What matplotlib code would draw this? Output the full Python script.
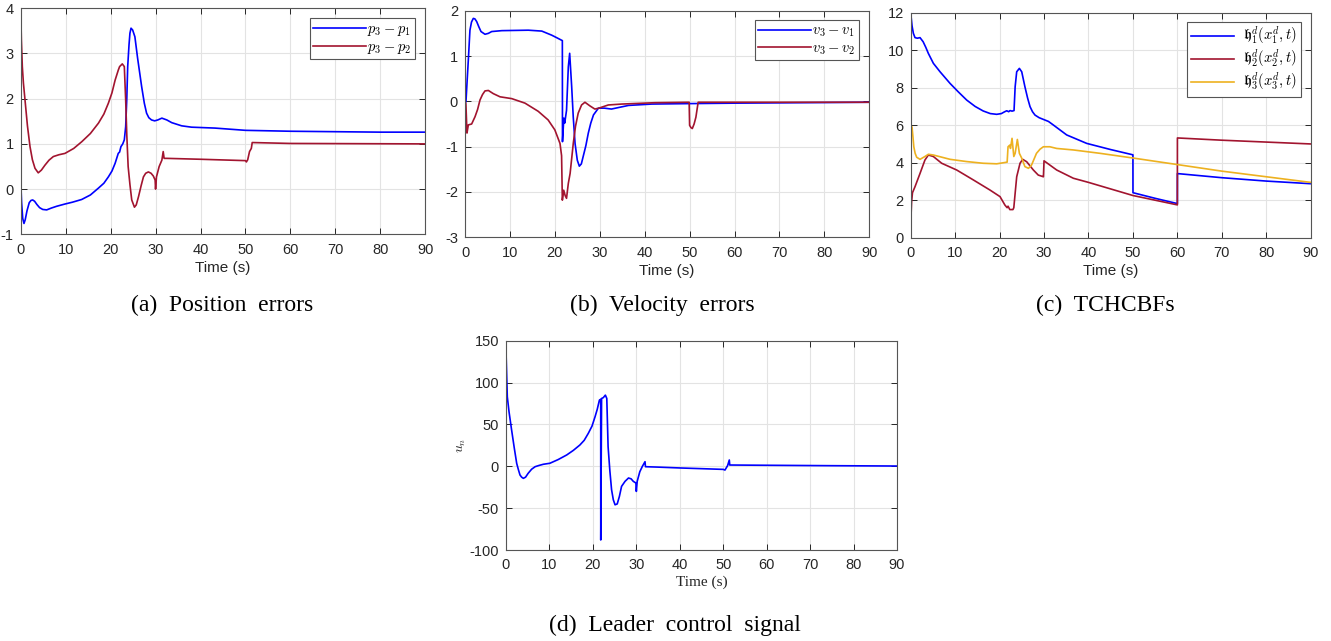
import matplotlib
matplotlib.use("Agg")
import matplotlib.pyplot as plt

plt.rcParams['axes.unicode_minus'] = False
plt.rcParams['mathtext.fontset'] = 'cm'
plt.rcParams['font.family'] = ['Liberation Sans', 'DejaVu Sans']

BLUE = '#0000FF'
RED = '#A2142F'
YEL = '#EDB120'

# ---------------- (a) Position errors ----------------
t_a1 = [0, 0.2, 0.45, 0.73, 1.0, 1.4, 1.9, 2.3, 2.67, 3.1, 3.6, 4.2, 4.9, 5.78, 6.8, 8.0, 9.85, 11.5, 13.56, 15.5, 17.27, 18.5, 19.5, 20.3, 21.0, 21.7, 22.0, 22.3, 22.7, 23.05, 23.35, 23.6, 23.8, 24.1, 24.3, 24.54, 24.9, 25.4, 26.0, 26.9, 27.5, 28.0, 28.5, 29.1, 29.8, 30.5, 31.4, 32.5, 33.6, 35.8, 38, 43.2, 50, 60, 70, 80, 90]
v_a1 = [0.2, -0.3, -0.65, -0.76, -0.68, -0.48, -0.3, -0.25, -0.24, -0.27, -0.34, -0.41, -0.45, -0.46, -0.42, -0.38, -0.33, -0.29, -0.23, -0.13, 0.02, 0.13, 0.27, 0.4, 0.57, 0.79, 0.82, 0.94, 1.0, 1.09, 1.38, 2.0, 2.71, 3.2, 3.45, 3.56, 3.52, 3.37, 2.9, 2.27, 1.9, 1.68, 1.58, 1.53, 1.51, 1.53, 1.57, 1.53, 1.47, 1.40, 1.37, 1.35, 1.3, 1.28, 1.27, 1.26, 1.26]
t_a2 = [0, 0.15, 0.36, 0.6, 0.96, 1.5, 2.07, 2.6, 3.18, 3.9, 4.6, 5.4, 6.3, 7.26, 8.5, 9.85, 11.8, 13.6, 15.5, 17.3, 18.5, 19.5, 20.3, 21.0, 21.7, 22.0, 22.6, 23.05, 23.35, 23.6, 23.9, 24.3, 24.7, 25.3, 25.7, 26.2, 26.8, 27.3, 27.8, 28.4, 29.0, 29.5, 29.9, 30.0, 30.2, 30.8, 31.4, 31.7, 31.9, 32.5, 40, 50.0, 50.2, 50.5, 50.9, 51.3, 51.5, 60, 90]
v_a2 = [4.0, 3.3, 2.71, 2.35, 1.97, 1.4, 0.94, 0.65, 0.46, 0.36, 0.42, 0.53, 0.64, 0.72, 0.76, 0.79, 0.9, 1.05, 1.23, 1.46, 1.66, 1.90, 2.13, 2.41, 2.63, 2.71, 2.77, 2.71, 1.97, 1.2, 0.5, 0.1, -0.24, -0.4, -0.35, -0.17, 0.08, 0.27, 0.35, 0.38, 0.35, 0.29, 0.2, 0.0, 0.27, 0.5, 0.64, 0.83, 0.68, 0.68, 0.66, 0.63, 0.6, 0.65, 0.83, 0.9, 1.03, 1.01, 1.0]

# ---------------- (b) Velocity errors ----------------
t_b1 = [0, 0.22, 0.5, 0.74, 1.1, 1.45, 1.85, 2.2, 2.6, 3.1, 3.56, 4.45, 5.2, 5.94, 8.2, 14.1, 17.1, 19.3, 20.5, 21.67, 21.7, 22.0, 22.2, 22.6, 23.0, 23.3, 23.75, 24.1, 24.5, 25.0, 25.45, 25.9, 26.3, 26.9, 27.45, 28.0, 28.6, 29.7, 31.0, 32.6, 36.4, 41.6, 50, 60, 90]
v_b1 = [-0.05, 0.0, 0.5, 0.91, 1.57, 1.75, 1.83, 1.82, 1.76, 1.64, 1.54, 1.48, 1.5, 1.54, 1.56, 1.57, 1.55, 1.46, 1.40, 1.34, -0.89, -0.37, -0.48, -0.2, 0.76, 1.06, 0.32, -0.35, -0.93, -1.3, -1.43, -1.38, -1.22, -0.98, -0.7, -0.48, -0.3, -0.15, -0.15, -0.17, -0.09, -0.06, -0.05, -0.04, -0.02]
t_b2 = [0, 0.2, 0.44, 0.74, 1.48, 2.23, 2.8, 3.34, 3.9, 4.45, 5.2, 6.3, 7.8, 10.4, 13.36, 16.3, 18.5, 20.0, 21.15, 21.5, 21.67, 21.97, 22.3, 22.6, 23.0, 23.4, 24.1, 24.6, 25.2, 25.95, 26.7, 27.8, 28.9, 29.8, 31.9, 34.9, 42.3, 49.9, 50.0, 50.3, 50.6, 51.0, 51.4, 51.9, 60, 90]
v_b2 = [0.0, -0.05, -0.7, -0.52, -0.5, -0.34, -0.18, 0.03, 0.15, 0.23, 0.24, 0.17, 0.1, 0.06, -0.04, -0.22, -0.41, -0.63, -0.93, -1.2, -2.18, -1.96, -2.08, -2.14, -1.81, -1.59, -0.93, -0.55, -0.26, -0.08, -0.02, -0.1, -0.17, -0.15, -0.08, -0.06, -0.03, -0.02, -0.53, -0.58, -0.6, -0.5, -0.35, -0.02, -0.02, -0.02]

# ---------------- (c) TCHCBFs ----------------
t_c1 = [0, 0.3, 0.6, 0.97, 1.5, 2.1, 2.8, 3.4, 3.97, 5.1, 6.6, 8.85, 10.7, 12.6, 14.5, 16.3, 17.9, 19.35, 20.4, 21.0, 21.6, 22.05, 22.35, 22.8, 23.25, 23.5, 23.85, 24.45, 24.98, 25.7, 26.3, 26.85, 27.4, 27.97, 28.9, 29.84, 31.0, 32.1, 35.1, 39.6, 45, 50, 50.01, 55, 60, 60.01, 70, 80, 90]
v_c1 = [12.0, 11.3, 10.9, 10.67, 10.64, 10.67, 10.45, 10.15, 9.83, 9.3, 8.85, 8.23, 7.78, 7.34, 7.0, 6.76, 6.62, 6.58, 6.62, 6.7, 6.77, 6.72, 6.78, 6.75, 6.78, 8.05, 8.85, 9.03, 8.85, 8.05, 7.45, 6.99, 6.72, 6.54, 6.4, 6.31, 6.2, 6.01, 5.48, 5.03, 4.7, 4.42, 2.4, 2.1, 1.82, 3.42, 3.2, 3.02, 2.88]
t_c2 = [0.05, 0.2, 0.4, 0.97, 2.1, 3.2, 3.97, 5.1, 6.97, 10.35, 14.1, 17.85, 20.1, 21.2, 21.7, 21.9, 22.3, 23.0, 23.2, 23.5, 23.85, 24.6, 25.2, 26.1, 27.6, 28.7, 29.85, 29.86, 30.0, 32.85, 36.6, 40, 45, 50, 55, 60, 60.01, 70, 80, 90]
v_c2 = [1.03, 1.9, 2.4, 2.72, 3.43, 4.14, 4.41, 4.33, 3.97, 3.61, 3.08, 2.54, 2.19, 1.74, 1.6, 1.68, 1.5, 1.5, 1.6, 2.37, 3.25, 3.97, 4.18, 4.05, 3.61, 3.34, 3.25, 3.25, 4.1, 3.61, 3.17, 2.95, 2.6, 2.25, 2.0, 1.75, 5.32, 5.2, 5.1, 5.0]
t_c3 = [0, 0.3, 0.5, 0.7, 1.0, 1.35, 2.1, 3.2, 3.97, 5.1, 8.85, 12.6, 16.3, 19.35, 21.7, 21.9, 22.3, 22.45, 22.8, 23.2, 23.5, 24.0, 24.45, 24.98, 25.7, 26.5, 27.2, 28.3, 29.1, 29.85, 31.3, 32.85, 36.6, 42.6, 50, 60, 70, 80, 90]
v_c3 = [6.01, 5.9, 5.4, 4.85, 4.5, 4.29, 4.18, 4.33, 4.45, 4.41, 4.18, 4.06, 3.97, 3.94, 4.03, 4.85, 4.94, 4.76, 5.3, 4.33, 4.5, 5.24, 4.5, 4.24, 3.79, 3.7, 3.88, 4.5, 4.72, 4.85, 4.85, 4.76, 4.68, 4.5, 4.25, 3.9, 3.55, 3.25, 2.95]

# ---------------- (d) Leader control signal ----------------
t_d = [0, 0.15, 0.3, 0.7, 1.3, 1.9, 2.46, 2.85, 3.22, 3.6, 4.0, 4.5, 5.1, 5.9, 6.7, 7.6, 8.6, 10.1, 12, 13.97, 15.5, 17.0, 18.0, 18.95, 19.8, 20.5, 21.0, 21.5, 21.8, 21.81, 22.0, 22.4, 22.87, 23.2, 23.5, 23.9, 24.3, 24.7, 25.1, 25.6, 26.1, 26.6, 27.4, 28.2, 28.8, 29.3, 29.9, 30.0, 30.2, 30.8, 31.4, 32.0, 32.1, 35, 40, 50, 50.4, 51.0, 51.4, 51.5, 60, 75, 90]
v_d = [138, 110, 83, 65, 43, 22, 3.5, -4, -10.4, -13, -14.4, -13, -8.4, -3.5, -0.5, 1.0, 2.4, 3.6, 8, 13.5, 19, 25.4, 31, 39.4, 48, 59.2, 68, 79, 80, -88, 81, 82, 85, 81, 23.4, -5, -28, -40, -46, -45, -36, -24, -18, -14, -15, -18, -20, -30, -18, -6.5, 0, 5.5, -0.5, -1, -2, -3.7, -4.5, 0.7, 7.5, 1.5, 1.2, 0.7, 0.3]

x_ticks = [0, 10, 20, 30, 40, 50, 60, 70, 80, 90]
W, H = 1331, 641
fig = plt.figure(figsize=(W / 100, H / 100), dpi=100)

EDGE = '#262626'


def style(ax, ylim, yticks, serif_xlabel=False):
    ax.set_xlim(0, 90)
    ax.set_ylim(*ylim)
    ax.set_xticks(x_ticks)
    ax.set_yticks(yticks)
    ax.grid(True, color='#e3e3e3', lw=0.8)
    ax.set_axisbelow(True)
    ax.tick_params(direction='in', length=4, width=0.7, colors=EDGE, labelsize=10.5,
                   top=True, right=True)
    ax.tick_params(axis='x', pad=6)
    ax.tick_params(axis='y', pad=5)
    for s in ax.spines.values():
        s.set_color('#555555')
        s.set_linewidth(0.8)
    if serif_xlabel:
        ax.set_xlabel('Time (s)', fontsize=11, family='Liberation Serif', labelpad=2, color=EDGE)
    else:
        ax.set_xlabel('Time (s)', fontsize=11, labelpad=3, color=EDGE)


def add_axes(left, top, right, bottom):
    return fig.add_axes([left / W, 1 - bottom / H, (right - left) / W, (bottom - top) / H])


LW = 1.2
leg_kw = dict(fontsize=10.5, handlelength=3.6, handletextpad=0.1, borderpad=0.25,
              labelspacing=0.15, fancybox=False, edgecolor='#555555', framealpha=1,
              borderaxespad=0)

# (a)
ax = add_axes(20.7, 8.3, 425.3, 234.3)
ax.plot(t_a1, v_a1, color=BLUE, lw=LW, label=r'$p_3-p_1$')
ax.plot(t_a2, v_a2, color=RED, lw=LW, label=r'$p_3-p_2$')
style(ax, (-1, 4), [-1, 0, 1, 2, 3, 4])
lg = ax.legend(loc='upper right', bbox_to_anchor=(0.975, 0.957), **leg_kw)
lg.get_frame().set_linewidth(0.8)

# (b)
ax = add_axes(465, 10.7, 869.3, 237.3)
ax.plot(t_b1, v_b1, color=BLUE, lw=LW, label=r'$v_3-v_1$')
ax.plot(t_b2, v_b2, color=RED, lw=LW, label=r'$v_3-v_2$')
style(ax, (-3, 2), [-3, -2, -1, 0, 1, 2])
lg = ax.legend(loc='upper right', bbox_to_anchor=(0.975, 0.959), **leg_kw)
lg.get_frame().set_linewidth(0.8)

# (c)
ax = add_axes(910.7, 12.7, 1310.7, 237.7)
ax.plot(t_c1, v_c1, color=BLUE, lw=LW, label=r'$\mathfrak{h}_1^d(x_1^d,t)$')
ax.plot(t_c2, v_c2, color=RED, lw=LW, label=r'$\mathfrak{h}_2^d(x_2^d,t)$')
ax.plot(t_c3, v_c3, color=YEL, lw=LW, label=r'$\mathfrak{h}_3^d(x_3^d,t)$')
style(ax, (0, 12), [0, 2, 4, 6, 8, 10, 12])
kw = dict(leg_kw)
kw.update(handlelength=3.0, handletextpad=0.6, labelspacing=0.05)
lg = ax.legend(loc='upper right', bbox_to_anchor=(0.975, 0.96), **kw)
lg.get_frame().set_linewidth(0.8)

# (d)
ax = add_axes(506, 340.7, 897, 550)
ax.plot(t_d, v_d, color=BLUE, lw=LW)
style(ax, (-100, 150), [-100, -50, 0, 50, 100, 150], serif_xlabel=True)
ax.set_ylabel(r'$u_n$', fontsize=10, labelpad=1, color=EDGE)

# captions
cap = dict(fontsize=17, family='Liberation Serif', ha='center', va='center', color='black')
fig.text(222 / W, 1 - 305 / H, '(a)  Position  errors', **cap)
fig.text(662 / W, 1 - 305 / H, '(b)  Velocity  errors', **cap)
fig.text(1105 / W, 1 - 305 / H, '(c)  TCHCBFs', **cap)
fig.text(675 / W, 1 - 625 / H, '(d)  Leader  control  signal', **cap)

fig.savefig('out.png', dpi=100)
